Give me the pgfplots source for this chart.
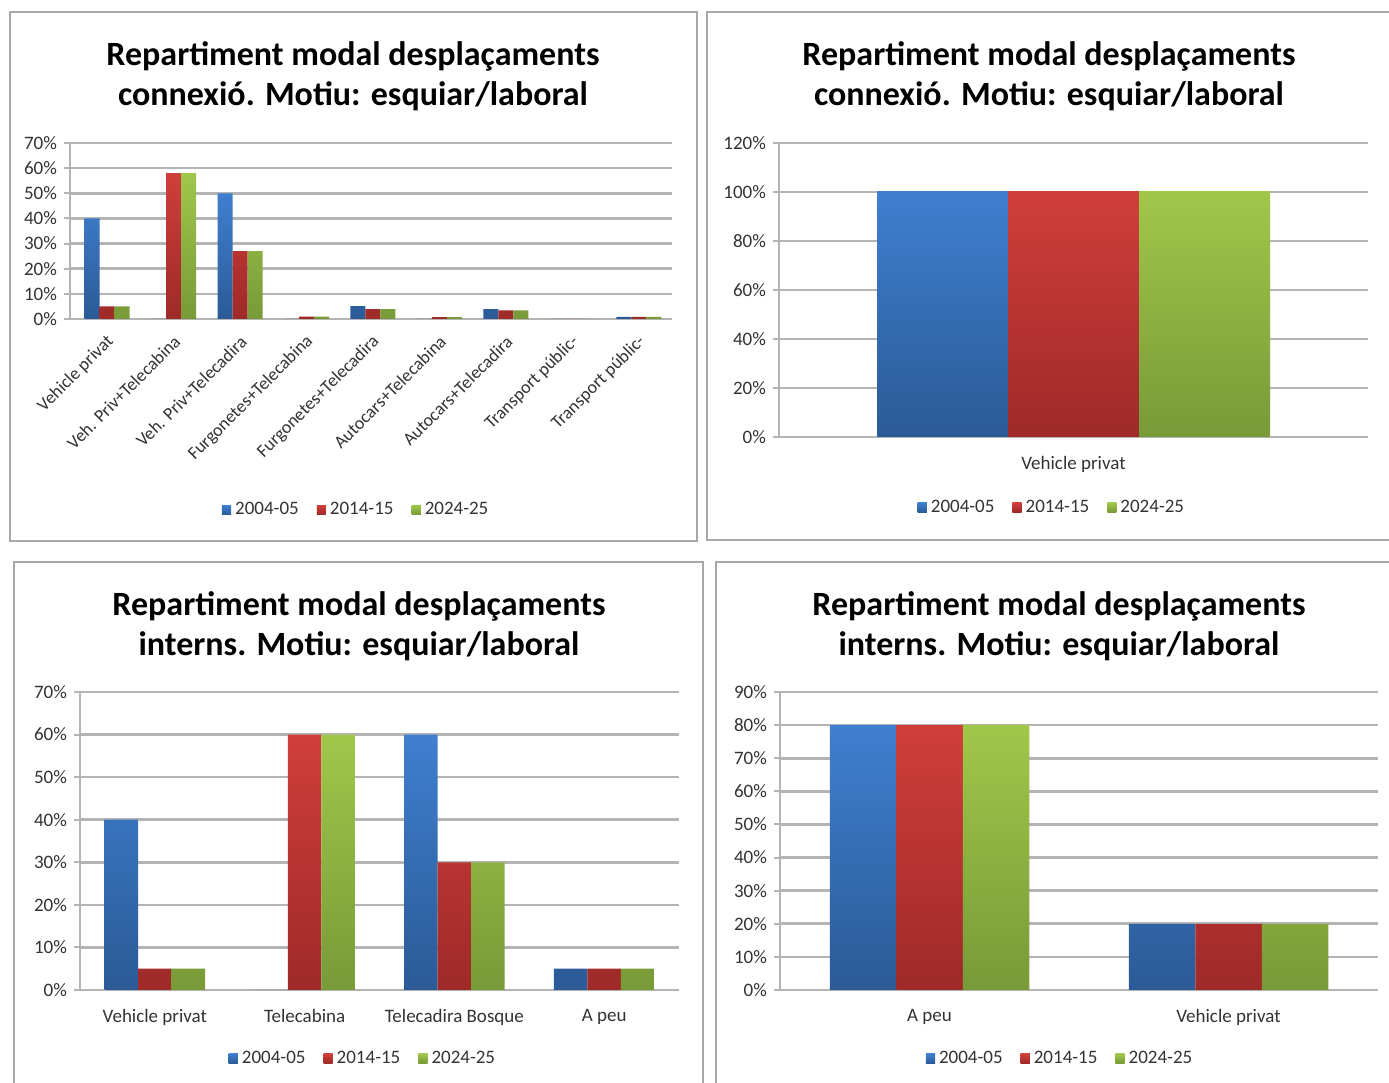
\documentclass[border=0pt]{standalone}
\usepackage{pgfplots}
\pgfplotsset{compat=1.18}
\usepackage{fontspec}
\setmainfont{Carlito}

\definecolor{btop}{HTML}{3F7FCF}
\definecolor{bbot}{HTML}{2B5A97}
\definecolor{rtop}{HTML}{D03E3A}
\definecolor{rbot}{HTML}{9E2A28}
\definecolor{gtop}{HTML}{A0C74A}
\definecolor{gbot}{HTML}{789A38}
\definecolor{gridc}{HTML}{B4B4B4}
\definecolor{framec}{HTML}{A8A8A8}
\definecolor{txt}{HTML}{333333}

\newcommand{\smallfont}{\fontsize{9.5}{11}\selectfont}
\newcommand{\titlefont}{\fontsize{17}{20}\selectfont\bfseries}

\pgfplotsset{
  excel/.style={
    scale only axis, anchor=south west,
    ybar=0pt, ymin=0,
    axis x line*=bottom, axis y line*=left,
    axis line style={draw=gridc, line width=1pt},
    ymajorgrids, grid style={draw=gridc, line width=1.3pt},
    ytick style={draw=gridc, line width=1pt},
    xtick style={draw=none},
    tick align=outside, major tick length=3pt,
    ticklabel style={font=\smallfont, text=txt},
    yticklabel={\pgfmathprintnumber[assume math mode=true]{\tick}\%},
    xticklabel style={yshift=-3pt},
    legend columns=-1,
    legend style={draw=none, fill=none, font=\smallfont, text=txt,
      /tikz/every even column/.append style={column sep=7pt},
      anchor=center},
  },
  s1/.style={draw=none, top color=btop, bottom color=bbot,
    legend image code/.code={\path[draw=none, fill=bbot] (0pt,-2.3pt) rectangle (4.6pt,2.3pt);}},
  s2/.style={draw=none, top color=rtop, bottom color=rbot,
    legend image code/.code={\path[draw=none, fill=rbot!85!rtop] (0pt,-2.3pt) rectangle (4.6pt,2.3pt);}},
  s3/.style={draw=none, top color=gtop, bottom color=gbot,
    legend image code/.code={\path[draw=none, fill=gbot!60!gtop] (0pt,-2.3pt) rectangle (4.6pt,2.3pt);}},
}

\begin{document}
\begin{tikzpicture}[x=0.5pt, y=0.5pt]
\useasboundingbox (0,0) rectangle (1389,1083);
\clip (0,0) rectangle (1389,1083);
\fill[white] (0,0) rectangle (1389,1083);

% panel frames
\draw[framec, line width=1pt] (10,1071) rectangle (697,542);
\draw[framec, line width=1pt] (707,1071) rectangle (1400,543);
\draw[framec, line width=1pt] (14,521) rectangle (703,-10);
\draw[framec, line width=1pt] (716,521) rectangle (1400,-10);

% titles
\node[font=\titlefont, align=center] at (353,1007) {Repartiment modal desplaçaments\\connexió. Motiu: esquiar/laboral};
\node[font=\titlefont, align=center] at (1049,1007) {Repartiment modal desplaçaments\\connexió. Motiu: esquiar/laboral};
\node[font=\titlefont, align=center] at (359,457) {Repartiment modal desplaçaments\\interns. Motiu: esquiar/laboral};
\node[font=\titlefont, align=center] at (1059,457) {Repartiment modal desplaçaments\\interns. Motiu: esquiar/laboral};

% top left
\begin{axis}[excel, at={(35pt,382pt)}, width=301pt, height=88pt,
  bar width=7.5pt, ymax=70, ytick={0,10,...,70},
  xmin=-0.56, xmax=8.5, xtick={0,...,8},
  xticklabels={Vehicle privat, {Veh. Priv+Telecabina}, {Veh. Priv+Telecadira},
    Furgonetes+Telecabina, Furgonetes+Telecadira, Autocars+Telecabina,
    Autocars+Telecadira, Transport públic-, Transport públic-},
  xticklabel style={rotate=45, anchor=east, yshift=-4pt, xshift=2pt,
    font=\fontsize{9}{10}\selectfont},
  legend style={at={(0.477,-1.085)}}]
\addplot[s1] coordinates {(0,40) (1,0) (2,50) (3,0) (4,5.1) (5,0) (6,3.9) (7,0) (8,0.8)};
\addplot[s2] coordinates {(0,5) (1,58) (2,27) (3,0.9) (4,3.9) (5,0.7) (6,3.4) (7,0) (8,0.8)};
\addplot[s3] coordinates {(0,5) (1,58) (2,27) (3,0.9) (4,3.9) (5,0.7) (6,3.4) (7,0) (8,0.8)};
\legend{2004-05, 2014-15, 2024-25}
\end{axis}

% top right
\begin{axis}[excel, at={(389.5pt,323pt)}, width=294.5pt, height=147pt,
  bar width=65.5pt, ymax=120, ytick={0,20,...,120},
  xmin=-0.5, xmax=0.5, xtick={0}, xticklabels={Vehicle privat},
  legend style={at={(0.465,-0.24)}}]
\addplot[s1] coordinates {(0,100)};
\addplot[s2] coordinates {(0,100)};
\addplot[s3] coordinates {(0,100)};
\legend{2004-05, 2014-15, 2024-25}
\end{axis}

% bottom left
\begin{axis}[excel, at={(40pt,46.5pt)}, width=299.5pt, height=149pt,
  bar width=16.75pt, ymax=70, ytick={0,10,...,70},
  xmin=-0.5, xmax=3.5, xtick={0,...,3},
  xticklabels={Vehicle privat, Telecabina, Telecadira Bosque, A peu},
  legend style={at={(0.474,-0.23)}}]
\addplot[s1] coordinates {(0,40) (1,0) (2,60) (3,5)};
\addplot[s2] coordinates {(0,5) (1,60) (2,30) (3,5)};
\addplot[s3] coordinates {(0,5) (1,60) (2,30) (3,5)};
\legend{2004-05, 2014-15, 2024-25}
\end{axis}

% bottom right
\begin{axis}[excel, at={(390pt,46.5pt)}, width=299pt, height=149pt,
  bar width=33.25pt, ymax=90, ytick={0,10,...,90},
  xmin=-0.5, xmax=1.5, xtick={0,1},
  xticklabels={A peu, Vehicle privat},
  legend style={at={(0.47,-0.23)}}]
\addplot[s1] coordinates {(0,80) (1,20)};
\addplot[s2] coordinates {(0,80) (1,20)};
\addplot[s3] coordinates {(0,80) (1,20)};
\legend{2004-05, 2014-15, 2024-25}
\end{axis}
\end{tikzpicture}
\end{document}
